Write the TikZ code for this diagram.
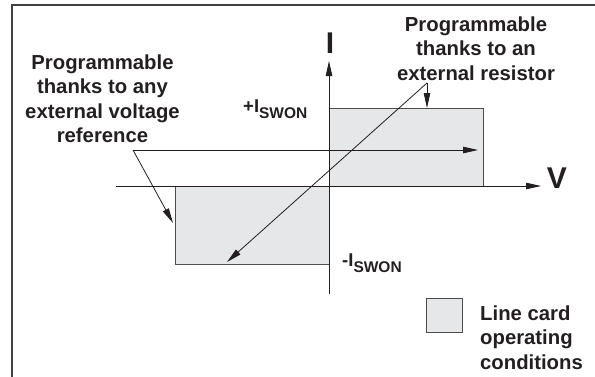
\documentclass[tikz,border=0pt]{standalone}
\usepackage{fontspec}
\setmainfont{Liberation Sans}
\usetikzlibrary{arrows.meta}
\definecolor{ink}{HTML}{231F20}
\definecolor{cardfill}{HTML}{E6E7E8}
\tikzset{
  txt/.style={inner sep=0pt, text=ink, align=center,
    font={\fontsize{20.3}{24.5}\selectfont\bfseries}},
  axislbl/.style={inner sep=0pt, text=ink, font={\fontsize{30}{30}\selectfont\bfseries}},
  sublbl/.style={inner sep=0pt, text=ink, font=\bfseries},
  conn/.style={draw=ink, line width=0.8pt, -{Triangle[length=15pt,width=6.5pt]}},
  cardbox/.style={draw=black!70, line width=0.9pt, fill=cardfill},
  frameline/.style={draw=black!75, line width=2pt}
}
\newcommand{\biglead}[1]{{\fontsize{18.5}{18.5}\selectfont #1}}
\begin{document}
\begin{tikzpicture}[x=1pt,y=-1pt]
\useasboundingbox (0,0) rectangle (595,376);
% frame (top and left edges visible)
\coordinate (ftr) at (596,5);
\coordinate (ftl) at (12,5);
\coordinate (fbl) at (12,377);
\draw[frameline] (ftr) -- (ftl) -- (fbl);
% operating regions
\draw[cardbox] (329,108) rectangle (483,186);
\draw[cardbox] (175,186) rectangle (329,264);
% axes
\coordinate (xs) at (116,186);
\coordinate (xe) at (541,186);
\coordinate (ys) at (329,294);
\coordinate (ye) at (329,61);
\draw[conn] (xs) -- (xe);
\draw[conn] (ys) -- (ye);
\node[axislbl, anchor=base] (I) at (330,53) {I};
\node[axislbl, anchor=base] (V) at (557,188) {V};
% current labels
\node[sublbl, anchor=base west] (pI) at (243,118)
  {\raisebox{6pt}{\biglead{+I}}\fontsize{15.5}{15.5}\selectfont SWON};
\node[sublbl, anchor=base west] (mI) at (342,272)
  {\raisebox{6pt}{\biglead{-I}}\fontsize{15.5}{15.5}\selectfont SWON};
% annotations
\node[txt, anchor=north] (lt) at (102.5,54.5)
  {Programmable\\thanks to any\\external voltage\\reference};
\node[txt, anchor=north] (rt) at (476,16.5)
  {Programmable\\thanks to an\\external resistor};
\coordinate (lp) at (133,150);
\coordinate (lh) at (478,150);
\coordinate (ld) at (173,223);
\draw[conn] (lp) -- (lh);
\draw[conn] (lp) -- (ld);
\coordinate (rp) at (427,83);
\coordinate (rd) at (227,262);
\coordinate (rv) at (427,108);
\draw[conn] (rp) -- (rd);
\draw[conn] (rp) -- (rv);
% legend
\draw[cardbox] (426,298) rectangle (462,332);
\node[txt, align=left, anchor=north west] (leg) at (480,305.5)
  {Line card\\operating\\conditions};
\end{tikzpicture}
\end{document}
